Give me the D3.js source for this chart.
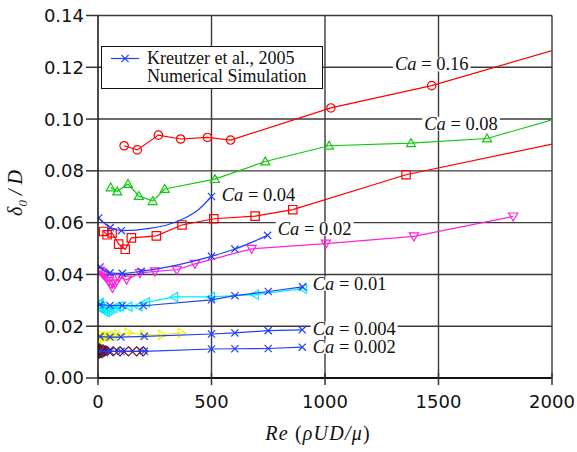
<!DOCTYPE html>
<html>
<head>
<meta charset="utf-8">
<script src="https://cdn.jsdelivr.net/npm/d3@7"></script>
<style>
  body { margin: 0; background: #fff; }
  svg { display: block; }
  .serif { font-family: "Liberation Serif", "Times New Roman", Times, "DejaVu Serif", serif; }
  .sans { font-family: "DejaVu Sans", sans-serif; }
</style>
</head>
<body>
<div id="chart"></div>
<script>
// simulation series (Re, delta0/D)
var re016 = [115, 173, 266, 364, 482, 584, 1026, 1470, 2200];
var d016  = [0.0897, 0.0881, 0.0938, 0.0923, 0.0929, 0.0919, 0.1043, 0.1129, 0.1315];

var re008 = [56, 85, 132, 180, 241, 294, 515, 737, 1018, 1379, 1714, 2200];
var d008  = [0.0736, 0.0720, 0.0749, 0.0703, 0.0683, 0.0730, 0.0768, 0.0836, 0.0897, 0.0907, 0.0925, 0.1047];

var re004 = [25, 40, 62, 91, 120, 147, 257, 370, 510, 692, 858, 1357, 2200];
var d004  = [0.0566, 0.0553, 0.0560, 0.0517, 0.0497, 0.0541, 0.0549, 0.0591, 0.0615, 0.0625, 0.0650, 0.0785, 0.0940];

var re002 = [8, 16, 24, 32, 40, 48, 56, 64, 76, 92, 126, 185, 251, 347, 427, 677, 1004, 1392, 1829];
var d002  = [0.0414, 0.0408, 0.0400, 0.0392, 0.0384, 0.0374, 0.0362, 0.0348, 0.0366, 0.0388, 0.0380, 0.0405, 0.0412, 0.0418, 0.0441, 0.0499, 0.0519, 0.0547, 0.0624];

var re001 = [2, 8, 14, 20, 28, 36, 46, 56, 68, 84, 97, 134, 178, 211, 336, 498, 692, 904];
var d001  = [0.0284, 0.0290, 0.0275, 0.0266, 0.0258, 0.0254, 0.0260, 0.0266, 0.0270, 0.0275, 0.0277, 0.0276, 0.0277, 0.0292, 0.0313, 0.0313, 0.0322, 0.0345];

var re0004 = [2, 5, 9, 14, 20, 27, 35, 45, 56, 70, 90, 134, 204, 283, 368];
var d0004  = [0.0172, 0.0162, 0.0154, 0.0150, 0.0153, 0.0156, 0.0158, 0.0160, 0.0162, 0.0164, 0.0168, 0.0174, 0.0167, 0.0167, 0.0174];

var re0002 = [1, 2, 4, 6, 8, 11, 14, 18, 22, 27, 33, 40, 67, 97, 134, 170, 199];
var d0002  = [0.0112, 0.0098, 0.0106, 0.0094, 0.0114, 0.0100, 0.0108, 0.0096, 0.0110, 0.0102, 0.0106, 0.0104, 0.0103, 0.0103, 0.0103, 0.0103, 0.0103];

// Kreutzer et al. 2005 (marked points listed separately from curve points)
var kRe004 = [3, 54, 103, 236, 310, 383, 442, 500];
var kD004  = [0.0618, 0.0581, 0.0569, 0.0579, 0.0593, 0.0618, 0.0650, 0.0701];
var kMark004 = [0, 1, 2, 7];

var kRe002 = [9, 53, 107, 190, 500, 603, 747];
var kD002  = [0.0429, 0.0406, 0.0404, 0.0412, 0.0470, 0.0498, 0.0551];

var kRe001 = [9, 53, 107, 200, 500, 603, 750, 901];
var kD001  = [0.0283, 0.0280, 0.0280, 0.0279, 0.0302, 0.0318, 0.0334, 0.0352];

var kRe0004 = [9, 53, 101, 204, 500, 603, 750, 900];
var kD0004  = [0.0160, 0.0158, 0.0158, 0.0161, 0.0170, 0.0174, 0.0183, 0.0186];

var kRe0002 = [9, 53, 101, 204, 500, 603, 750, 900];
var kD0002  = [0.0104, 0.0103, 0.0103, 0.0103, 0.0112, 0.0113, 0.0114, 0.0119];

// Ca labels, anchored in data units
var caText = ["0.16", "0.08", "0.04", "0.02", "0.01", "0.004", "0.002"];
var caRe   = [1308, 1437, 545, 792, 946, 946, 946];
var caD    = [0.1188, 0.0959, 0.0685, 0.0553, 0.0341, 0.0167, 0.0098];

var xTicks = [0, 500, 1000, 1500, 2000];
var yTicks = [0, 0.02, 0.04, 0.06, 0.08, 0.10, 0.12, 0.14];

var W = 577, H = 452;
var m = { left: 98, top: 15.5, right: 25, bottom: 74 };
var pw = W - m.left - m.right, ph = H - m.top - m.bottom;

var svg = d3.select("#chart").append("svg")
    .attr("width", W).attr("height", H);

var x = d3.scaleLinear().domain([0, 2000]).range([0, pw]);
var y = d3.scaleLinear().domain([0, 0.14]).range([ph, 0]);

var g = svg.append("g").attr("transform", "translate(" + m.left + "," + m.top + ")");

svg.append("defs").append("clipPath").attr("id", "plotclip")
  .append("rect").attr("x", 0).attr("y", -2).attr("width", pw).attr("height", ph + 4);

// grid
g.selectAll("line.hgrid").data(yTicks.slice(1)).enter().append("line")
    .attr("x1", 0).attr("x2", pw)
    .attr("y1", function(d) { return y(d); }).attr("y2", function(d) { return y(d); })
    .attr("stroke", "#3a3a3a").attr("stroke-width", 1.4);
g.selectAll("line.vgrid").data(xTicks.slice(1)).enter().append("line")
    .attr("x1", function(d) { return x(d); }).attr("x2", function(d) { return x(d); })
    .attr("y1", 0).attr("y2", ph)
    .attr("stroke", "#3a3a3a").attr("stroke-width", 1.4);

// marker shapes
function markerPath(type, s) {
    switch (type) {
        case "circle":
            return "M" + (-s) + ",0A" + s + "," + s + " 0 1,0 " + s + ",0A" + s + "," + s + " 0 1,0 " + (-s) + ",0Z";
        case "square":
            return "M" + (-s) + "," + (-s) + "H" + s + "V" + s + "H" + (-s) + "Z";
        case "triUp":
            return "M0," + (-s) + "L" + s + "," + (s * 0.75) + "L" + (-s) + "," + (s * 0.75) + "Z";
        case "triDown":
            return "M0," + s + "L" + s + "," + (-s * 0.75) + "L" + (-s) + "," + (-s * 0.75) + "Z";
        case "triLeft":
            return "M" + (-s) + ",0L" + (s * 0.75) + "," + (-s) + "L" + (s * 0.75) + "," + s + "Z";
        case "triRight":
            return "M" + s + ",0L" + (-s * 0.75) + "," + (-s) + "L" + (-s * 0.75) + "," + s + "Z";
        case "diamond":
            return "M0," + (-s) + "L" + s + ",0L0," + s + "L" + (-s) + ",0Z";
        case "x":
            return "M" + (-s) + "," + (-s) + "L" + s + "," + s + "M" + (-s) + "," + s + "L" + s + "," + (-s);
    }
}

var plot = g.append("g").attr("clip-path", "url(#plotclip)");

function drawSeries(res, ds, color, type, size, marks, curve) {
    var pts = res.map(function(r, i) { return [r, ds[i]]; });
    var line = d3.line()
        .x(function(d) { return x(d[0]); })
        .y(function(d) { return y(d[1]); })
        .curve(curve || d3.curveLinear);
    plot.append("path").datum(pts)
        .attr("d", line)
        .attr("fill", "none").attr("stroke", color).attr("stroke-width", 1.2);
    var mpts = marks ? marks.map(function(i) { return pts[i]; }) : pts;
    plot.selectAll(null).data(mpts).enter().append("path")
        .attr("transform", function(d) { return "translate(" + x(d[0]) + "," + y(d[1]) + ")"; })
        .attr("d", markerPath(type, size))
        .attr("fill", "none").attr("stroke", color).attr("stroke-width", 1.2);
}

var blue = "#1f40ff";
drawSeries(re016, d016, "#ff0000", "circle", 4.2);
drawSeries(re008, d008, "#0fc80f", "triUp", 4.5);
drawSeries(re004, d004, "#ff0000", "square", 4.2);
drawSeries(re002, d002, "#ff22dd", "triDown", 4.6);
drawSeries(re001, d001, "#00eaff", "triLeft", 4.6);
drawSeries(re0004, d0004, "#f2f200", "triRight", 4.6);
drawSeries(re0002, d0002, "#6a0c2c", "diamond", 4.6);

drawSeries(kRe004, kD004, blue, "x", 3.6, kMark004, d3.curveMonotoneX);
drawSeries(kRe002, kD002, blue, "x", 3.6, null, d3.curveMonotoneX);
drawSeries(kRe001, kD001, blue, "x", 3.6);
drawSeries(kRe0004, kD0004, blue, "x", 3.6);
drawSeries(kRe0002, kD0002, blue, "x", 3.6);

// Ca labels with white backing
caText.forEach(function(t, i) {
    var lg = g.append("g");
    var txt = lg.append("text").attr("class", "serif")
        .attr("x", x(caRe[i])).attr("y", y(caD[i]))
        .attr("font-size", 18.5).attr("fill", "#111");
    txt.append("tspan").attr("font-style", "italic").text("Ca");
    txt.append("tspan").text(" = " + t);
    var bb = txt.node().getBBox();
    lg.insert("rect", "text")
        .attr("x", bb.x - 2).attr("y", bb.y + 3)
        .attr("width", bb.width + 4).attr("height", bb.height - 6)
        .attr("fill", "#fff");
});

// axes
g.append("line").attr("x1", 0).attr("x2", 0).attr("y1", 0).attr("y2", ph)
    .attr("stroke", "#111").attr("stroke-width", 1.5);
g.append("line").attr("x1", 0).attr("x2", pw).attr("y1", ph).attr("y2", ph)
    .attr("stroke", "#111").attr("stroke-width", 2);

var yAxis = g.append("g");
yAxis.selectAll("line").data(yTicks).enter().append("line")
    .attr("x1", -12).attr("x2", 0)
    .attr("y1", function(d) { return y(d); }).attr("y2", function(d) { return y(d); })
    .attr("stroke", "#333").attr("stroke-width", 1.5);
yAxis.selectAll("text").data(yTicks).enter().append("text").attr("class", "sans")
    .attr("x", -14).attr("y", function(d) { return y(d); })
    .attr("dy", "0.36em").attr("text-anchor", "end")
    .attr("font-size", 18).attr("fill", "#111")
    .text(d3.format(".2f"));

var xAxis = g.append("g");
xAxis.selectAll("line").data(xTicks).enter().append("line")
    .attr("x1", function(d) { return x(d); }).attr("x2", function(d) { return x(d); })
    .attr("y1", ph - 5).attr("y2", ph + 7)
    .attr("stroke", "#333").attr("stroke-width", 1.5);
xAxis.selectAll("text").data(xTicks).enter().append("text").attr("class", "sans")
    .attr("x", function(d) { return x(d); }).attr("y", ph + 30)
    .attr("text-anchor", "middle")
    .attr("font-size", 18).attr("fill", "#111")
    .text(function(d) { return d; });

// axis titles
var xt = svg.append("text").attr("class", "serif")
    .attr("x", 318).attr("y", 440)
    .attr("text-anchor", "middle")
    .attr("font-size", 20).attr("letter-spacing", 1.2).attr("fill", "#111");
xt.append("tspan").attr("font-style", "italic").text("Re");
xt.append("tspan").text(" (");
xt.append("tspan").attr("font-style", "italic").text("\u03C1UD/\u03BC");
xt.append("tspan").text(")");

var yt = svg.append("text").attr("class", "serif")
    .attr("transform", "translate(22,193) rotate(-90)")
    .attr("text-anchor", "middle")
    .attr("font-size", 20).attr("font-style", "italic").attr("fill", "#111");
yt.append("tspan").text("\u03B4");
yt.append("tspan").attr("font-size", 13).attr("dy", 5).text("0");
yt.append("tspan").attr("dy", -5).text(" / D");

// legend
var leg = svg.append("g");
leg.append("rect").attr("x", 101.5).attr("y", 46.5).attr("width", 221).attr("height", 42)
    .attr("fill", "#fff").attr("stroke", "#111").attr("stroke-width", 1);
leg.append("line").attr("x1", 111).attr("x2", 139).attr("y1", 58.5).attr("y2", 58.5)
    .attr("stroke", blue).attr("stroke-width", 1.2);
leg.append("path").attr("transform", "translate(125,58.5)").attr("d", markerPath("x", 3.6))
    .attr("fill", "none").attr("stroke", blue).attr("stroke-width", 1.2);
leg.append("text").attr("class", "serif").attr("x", 147).attr("y", 64)
    .attr("font-size", 18).attr("fill", "#111")
    .text("Kreutzer et al., 2005");
leg.append("text").attr("class", "serif").attr("x", 147).attr("y", 82)
    .attr("font-size", 18).attr("fill", "#111")
    .text("Numerical Simulation");
</script>
</body>
</html>
